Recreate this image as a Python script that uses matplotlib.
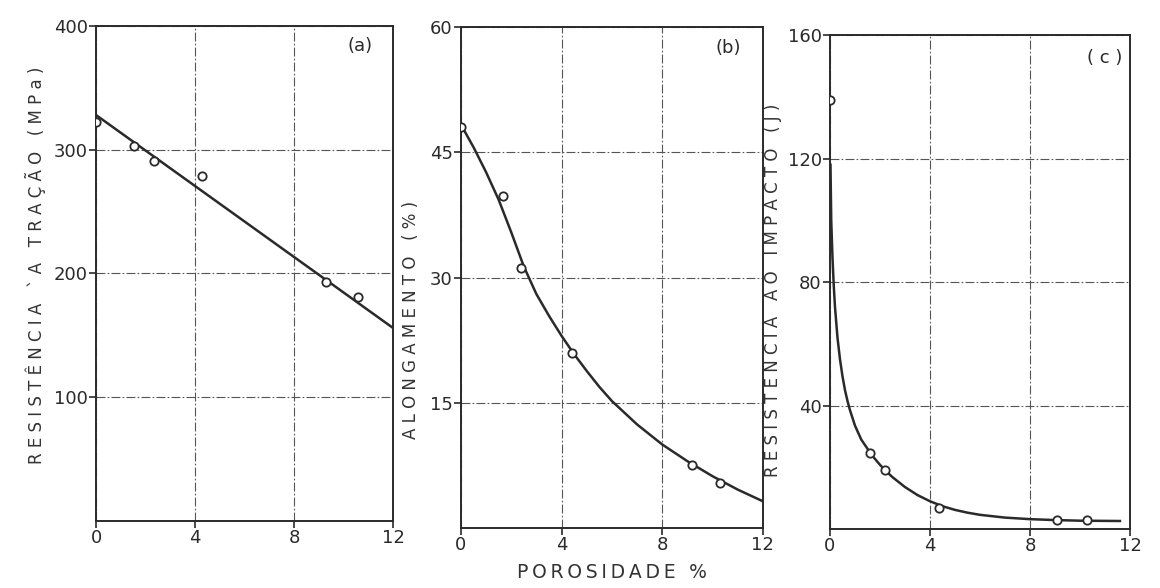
import matplotlib
matplotlib.use('Agg')
import matplotlib.pyplot as plt

# (a) tensile strength vs porosity
a_x = [0.0, 1.55, 2.35, 4.3, 9.3, 10.6]
a_y = [322, 303, 291, 279, 193, 181]
a_fit_x = [0, 12]
a_fit_y = [328, 156]

# (b) elongation vs porosity
b_x = [0.0, 1.65, 2.4, 4.4, 9.2, 10.3]
b_y = [48.0, 39.8, 31.2, 21.0, 7.6, 5.4]
b_fit_x = [0, 0.5, 1, 1.5, 2, 2.5, 3, 3.5, 4, 4.5, 5, 5.5, 6, 6.5, 7, 7.5,
           8, 8.5, 9, 9.5, 10, 10.5, 11, 11.5, 12]
b_fit_y = [48.3, 45.6, 42.6, 39.3, 35.4, 31.3, 28.0, 25.4, 23.0, 20.8, 18.8,
           16.9, 15.2, 13.8, 12.4, 11.2, 10.0, 9.0, 8.0, 7.1, 6.2, 5.4, 4.6,
           3.9, 3.2]

# (c) impact resistance vs porosity
c_x = [0.0, 1.6, 2.2, 4.35, 9.1, 10.3]
c_y = [139, 24.5, 19.0, 6.8, 2.8, 2.8]
c_fit_x = [0.02, 0.05, 0.1, 0.15, 0.2, 0.3, 0.4, 0.5, 0.6, 0.7, 0.8, 1.0,
           1.25, 1.5, 1.75, 2.0, 2.25, 2.5, 3.0, 3.5, 4.0, 4.5, 5.0, 5.5,
           6.0, 7.0, 8.0, 9.0, 10.0, 11.6]
c_fit_y = [118, 100, 88, 79, 72, 62, 55, 49.5, 45, 41.5, 38.5, 33.5,
           29, 26, 23.2, 20.8, 18.7, 16.8, 13.6, 11.0, 9.0, 7.4, 6.2, 5.3,
           4.6, 3.7, 3.2, 2.9, 2.7, 2.6]

x_ticks = [0, 4, 8, 12]
a_ticks = [100, 200, 300, 400]
b_ticks = [15, 30, 45, 60]
c_ticks = [40, 80, 120, 160]


def spaced(s):
    # wide lettering like the stencil text of the original
    return '   '.join(' '.join(w) for w in s.split())


fig = plt.figure(figsize=(11.6, 5.88), dpi=100)
ax1 = fig.add_axes([0.0828, 0.1139, 0.256, 0.842])
ax2 = fig.add_axes([0.3974, 0.1020, 0.2603, 0.852])
ax3 = fig.add_axes([0.7155, 0.1003, 0.2586, 0.840])

panels = [
    (ax1, a_x, a_y, a_fit_x, a_fit_y, 400, a_ticks,
     'RESISTÊNCIA `A TRAÇÃO (MPa)', (-0.17, 0.517), '(a)', (0.89, 0.96)),
    (ax2, b_x, b_y, b_fit_x, b_fit_y, 60, b_ticks,
     'ALONGAMENTO (%)', (-0.136, 0.415), '(b)', (0.884, 0.958)),
    (ax3, c_x, c_y, c_fit_x, c_fit_y, 160, c_ticks,
     'RESISTENCIA AO IMPACTO (J)', (-0.16, 0.484), '( c )', (0.917, 0.953)),
]

ink = '#2a2a2a'
for ax, px, py, fx, fy, ymax, yt, ylab, lpos, tag, tpos in panels:
    ax.set_xlim(0, 12)
    ax.set_ylim(0, ymax)
    ax.set_xticks(x_ticks)
    ax.set_yticks(yt)
    ax.grid(True, color='#555555', lw=0.8, ls=(0, (8, 2, 1.5, 2)))
    ax.plot(fx, fy, color=ink, lw=1.8, zorder=3)
    ax.plot(px, py, 'o', ms=6, mfc='white', mec=ink, mew=1.3, zorder=4)
    for s in ax.spines.values():
        s.set_color(ink)
        s.set_linewidth(1.4)
    ax.tick_params(direction='out', length=5, width=1.2, colors=ink,
                   labelsize=13, pad=1)
    ax.set_ylabel(spaced(ylab), fontsize=12, color='#333333')
    ax.yaxis.set_label_coords(*lpos)
    ax.text(tpos[0], tpos[1], tag, transform=ax.transAxes, fontsize=13,
            color=ink, ha='center', va='center')

ax2.set_xlabel('\u2009'.join('POROSIDADE %'), fontsize=13.5,
               color='#333333', labelpad=6)

fig.savefig('out.png', dpi=100)
